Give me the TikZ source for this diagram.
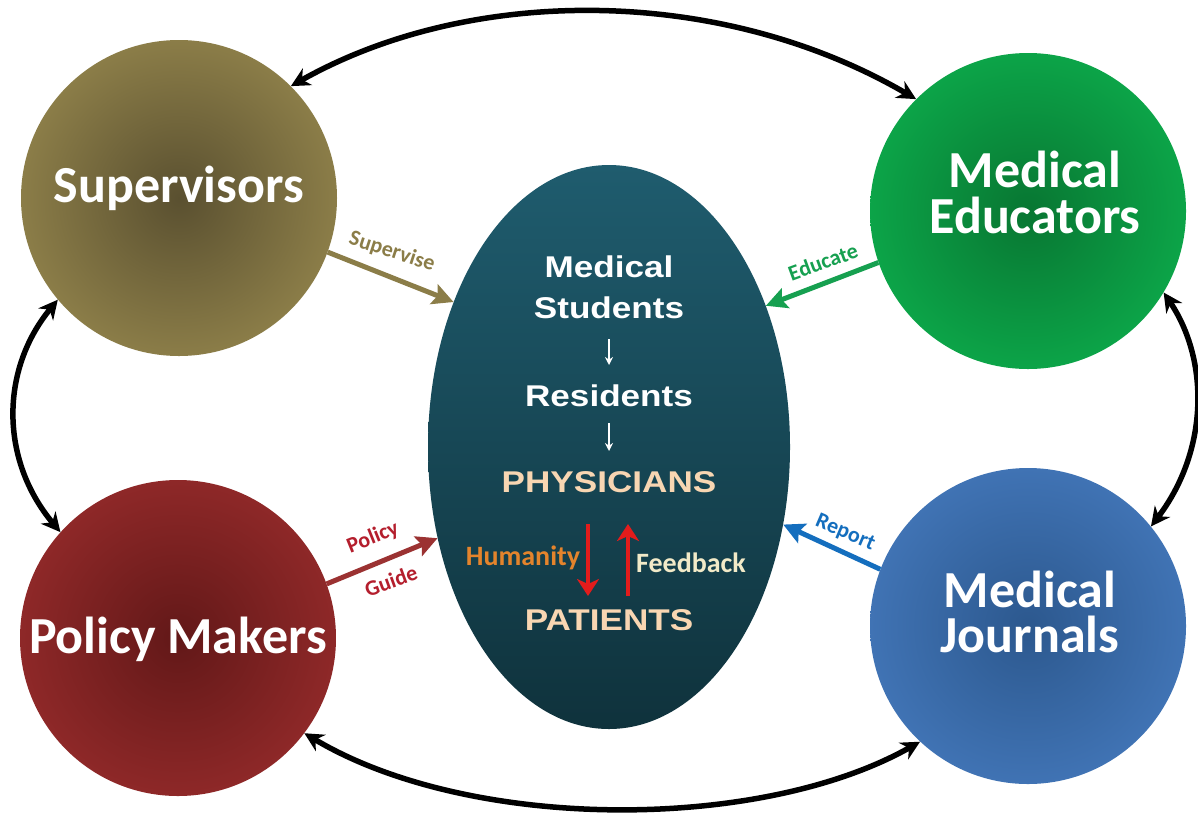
\documentclass[tikz,border=0pt]{standalone}
\usepackage{fontspec}
\setmainfont{Liberation Sans}
\newfontfamily\calfont{Carlito}
\newfontfamily\ctrfont{Liberation Sans}[FakeStretch=1.17]
\usetikzlibrary{shapes.geometric,arrows.meta}
\definecolor{supOut}{RGB}{139,125,72}
\definecolor{supIn}{RGB}{90,80,48}
\definecolor{eduOut}{RGB}{12,164,72}
\definecolor{eduIn}{RGB}{8,118,50}
\definecolor{polOut}{RGB}{142,40,40}
\definecolor{polIn}{RGB}{98,24,24}
\definecolor{jouOut}{RGB}{64,115,180}
\definecolor{jouIn}{RGB}{44,88,142}
\definecolor{ellTop}{RGB}{31,92,110}
\definecolor{ellBot}{RGB}{15,50,60}
\definecolor{supTxt}{RGB}{139,125,72}
\definecolor{eduTxt}{RGB}{22,160,80}
\definecolor{polLine}{RGB}{155,50,50}
\definecolor{polTxt}{RGB}{180,30,45}
\definecolor{jouTxt}{RGB}{20,110,190}
\definecolor{peach}{RGB}{248,214,178}
\definecolor{humTxt}{RGB}{228,132,44}
\definecolor{fbTxt}{RGB}{242,234,200}
\definecolor{redArr}{RGB}{226,28,28}
\begin{document}
\begin{tikzpicture}[x=1pt,y=-1pt,
  circ/.style={circle,minimum size=316pt,inner sep=0pt,shading=radial},
  big/.style={font=\calfont\bfseries\fontsize{52}{48}\selectfont,text=white,inner sep=0pt,anchor=base},
  ctr/.style={font=\ctrfont\bfseries\fontsize{30}{34}\selectfont,inner sep=0pt,anchor=base},
  side/.style={font=\calfont\bfseries\fontsize{28}{30}\selectfont,inner sep=0pt,anchor=base},
  lab/.style={font=\calfont\bfseries\fontsize{22}{24}\selectfont,inner sep=0pt},
  link/.style={line width=5.5pt,{Stealth[length=19pt,width=19pt]}-{Stealth[length=19pt,width=19pt]}},
  flow/.style={line width=5pt,-{Stealth[length=21pt,width=21pt,inset=4pt]}},
  down/.style={white,line width=1.8pt,-{Stealth[length=8pt,width=8pt]}},
  redflow/.style={redArr,line width=3.2pt,-{Stealth[length=17pt,width=22pt,inset=5pt]}},
]
\useasboundingbox (0,0) rectangle (1198,812);
\fill[white] (0,0) rectangle (1198,812);

% circles
\node[circ,inner color=supIn,outer color=supOut] (sup) at (179,198) {};
\node[circ,inner color=eduIn,outer color=eduOut] (edu) at (1028,211) {};
\node[circ,inner color=polIn,outer color=polOut] (pol) at (178,638) {};
\node[circ,inner color=jouIn,outer color=jouOut] (jou) at (1028,626) {};

% central ellipse
\node[ellipse,minimum width=362pt,minimum height=564pt,inner sep=0pt,
      top color=ellTop,bottom color=ellBot] (ell) at (609,447) {};

% circle labels
\node[big] (supL) at (179,202) {Supervisors};
\node[big] (eduL1) at (1035,187) {Medical};
\node[big] (eduL2) at (1035,233) {Educators};
\node[big] (polL) at (178,653) {Policy Makers};
\node[big] (jouL1) at (1030,607) {Medical};
\node[big] (jouL2) at (1030,652) {Journals};

% center texts
\node[ctr,text=white] (med) at (609,277) {Medical};
\node[ctr,text=white] (stu) at (609,318) {Students};
\node[ctr,text=white] (res) at (609,406) {Residents};
\node[ctr,text=peach] (phy) at (609,492) {PHYSICIANS};
\node[ctr,text=peach] (pat) at (609,630) {PATIENTS};
\node[side,text=humTxt] (hum) at (523,565) {Humanity};
\node[side,text=fbTxt] (fb) at (691,572) {Feedback};

\coordinate (d1a) at (609,339);
\coordinate (d1b) at (609,365);
\coordinate (d2a) at (609,423);
\coordinate (d2b) at (609,451);
\draw[down] (d1a) -- (d1b);
\draw[down] (d2a) -- (d2b);

\coordinate (r1a) at (588,524);
\coordinate (r1b) at (588,596);
\coordinate (r2a) at (628,596);
\coordinate (r2b) at (628,524);
\draw[redflow] (r1a) -- (r1b);
\draw[redflow] (r2a) -- (r2b);

% colored arrows
\draw[flow,supOut] (sup.-20) -- (ell.137);
\draw[flow,eduTxt] (edu.199) -- (ell.42.4);
\draw[flow,polLine] (pol.20.6) -- (ell.208);
\draw[flow,jouTxt] (jou.159) -- (ell.-24.5);

\node[lab,text=supTxt,rotate=-18] (lsup) at (392,252) {Supervise};
\node[lab,text=eduTxt,rotate=20] (ledu) at (823,262) {Educate};
\node[lab,text=polTxt,rotate=22] (lpol) at (373,538) {Policy};
\node[lab,text=polTxt,rotate=20] (lgui) at (391,581) {Guide};
\node[lab,text=jouTxt,rotate=-23] (ljou) at (845,533) {Report};

% black links
\draw[link] (sup.45) .. controls (470,-15) and (720,-15) .. (edu.135);
\draw[link] (pol.-37) .. controls (470,832) and (760,832) .. (jou.-133);
\draw[link] (sup.220) .. controls (0,370) and (0,460) .. (pol.138);
\draw[link] (edu.-31) .. controls (1209,360) and (1209,450) .. (jou.39);
\end{tikzpicture}
\end{document}
